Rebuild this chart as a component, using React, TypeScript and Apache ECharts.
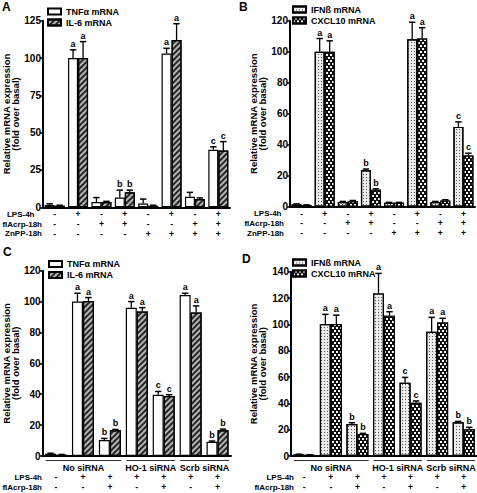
import React, { useEffect, useRef } from 'react';
import * as echarts from 'echarts';

const FONT = '"Liberation Sans", Arial, Helvetica, sans-serif';

// ---------- Panel A ----------
const catsA = ['A1', 'A2', 'A3', 'A4', 'A5', 'A6', 'A7', 'A8'];
const lpsA = ['-', '+', '-', '+', '-', '+', '-', '+'];
const flA = ['-', '-', '+', '+', '-', '-', '+', '+'];
const znA = ['-', '-', '-', '-', '+', '+', '+', '+'];
const tnfA = [1.5, 100, 3.5, 6.5, 2.5, 103, 7, 38.5];
const tnfErrA = [0.8, 5.5, 3, 5, 3, 3.5, 3, 2];
const tnfLetA = ['', 'a', '', 'b', '', 'a', '', 'c'];
const il6A = [1, 100, 3.5, 10, 1, 112, 5.5, 38];
const il6ErrA = [0.4, 11, 0.5, 1.5, 0.4, 11, 0.8, 6];
const il6LetA = ['', 'a', '', 'b', '', 'a', '', 'c'];

// ---------- Panel B ----------
const catsB = ['B1', 'B2', 'B3', 'B4', 'B5', 'B6', 'B7', 'B8'];
const ifnB = [1.5, 100, 3, 23.5, 2.5, 108, 3, 51.5];
const ifnErrB = [0.3, 8.5, 0.4, 0.8, 0.3, 11, 0.4, 3.2];
const ifnLetB = ['', 'a', '', 'b', '', 'a', '', 'c'];
const cxB = [1, 100, 3.5, 11, 2.5, 108.5, 4, 33];
const cxErrB = [0.2, 7, 0.5, 0.5, 0.3, 7, 0.5, 1.5];
const cxLetB = ['', 'a', '', 'b', '', 'a', '', 'c'];

// ---------- Panel C ----------
const catsC = ['C1', 'C2', 'C3', 'C4', 'C5', 'C6', 'C7'];
const lpsC = ['-', '+', '+', '+', '+', '+', '+'];
const flC = ['-', '-', '+', '-', '+', '-', '+'];
const tnfC = [1.5, 100, 10.3, 96, 39.7, 104.3, 9.2];
const tnfErrC = [0.3, 5.4, 1.1, 4, 2.1, 1.1, 0.5];
const tnfLetC = ['', 'a', 'b', 'a', 'c', 'a', 'b'];
const il6C = [0.8, 100.3, 16.7, 93.6, 38.8, 92.9, 16.7];
const il6ErrC = [0.2, 2.3, 0.5, 2.5, 0.9, 4.3, 0.7];
const il6LetC = ['', 'a', 'b', 'a', 'c', 'a', 'b'];

// ---------- Panel D ----------
const catsD = ['D1', 'D2', 'D3', 'D4', 'D5', 'D6', 'D7'];
const ifnD = [1.2, 100.3, 24.3, 123.5, 55.7, 94.4, 25.6];
const ifnErrD = [0.2, 7.3, 1, 15.2, 4, 10.9, 0.7];
const ifnLetD = ['', 'a', 'b', 'a', 'c', 'a', 'b'];
const cxD = [0.8, 100.3, 16.7, 106.6, 40.5, 101.5, 20.3];
const cxErrD = [0.2, 6.7, 0.5, 3, 1.3, 3.1, 1.5];
const cxLetD = ['', 'a', 'b', 'a', 'c', 'a', 'b'];

const siGroups = ['No siRNA', 'HO-1 siRNA', 'Scrb siRNA'];
const siGroupRanges = [[0, 2], [3, 4], [5, 6]];

const rowNamesAB = ['LPS-4h', 'flAcrp-18h', 'ZnPP-18h'];
const rowNamesCD = ['LPS-4h', 'flAcrp-18h'];

const Y_NAME = 'Relative mRNA expression\n(fold over basal)';

// ---------- styles ----------
const styleWhite = { color: '#ffffff' };
const styleHatch = {
  color: '#b4b4b4',
  decal: { symbol: 'rect', symbolSize: 1, dashArrayX: [1, 0], dashArrayY: [1.3, 1.7], rotation: -Math.PI / 4, color: '#262626' },
};
const styleDots = {
  color: '#ececec',
  decal: { symbol: 'rect', symbolSize: 1, dashArrayX: [1, 2], dashArrayY: [1, 2], color: '#555' },
};
const styleChecker = {
  color: '#111111',
  decal: { symbol: 'rect', symbolSize: 1, dashArrayX: [[2, 2], [0, 2, 2, 0]], dashArrayY: [2, 1], color: '#ffffff' },
};

const ROW_H_AB = 9.7;
const ROW_OFF_AB = 7; // first row centre below the zero line
const ROW_H_CD = 10;
const ROW_OFF_CD = 21;

function barSeries(name: string, idx: number, vals: number[], st: any, bw: number) {
  return {
    type: 'bar',
    name,
    xAxisIndex: idx,
    yAxisIndex: idx,
    data: vals,
    barWidth: bw,
    barGap: '0%',
    z: 2,
    itemStyle: { ...st, borderColor: '#000', borderWidth: 1.2 },
  };
}

function errSeries(idx: number, vals: number[], errs: number[], lets: string[], side: number, bw: number) {
  return {
    type: 'custom',
    xAxisIndex: idx,
    yAxisIndex: idx,
    z: 4,
    clip: false,
    silent: true,
    data: vals.map((v, i) => [i, v, errs[i]]),
    encode: { x: 0, y: 1 },
    renderItem: (params: any, api: any) => {
      const i = api.value(0);
      const v = api.value(1);
      const e = api.value(2);
      const base = api.coord([i, v]);
      const top = api.coord([i, v + e]);
      const x = base[0] + (side * bw) / 2;
      const children: any[] = [];
      if (e > 0) {
        children.push({
          type: 'line',
          shape: { x1: x, y1: base[1], x2: x, y2: top[1] },
          style: { stroke: '#000', lineWidth: 1.3 },
        });
        children.push({
          type: 'line',
          shape: { x1: x - 3.2, y1: top[1], x2: x + 3.2, y2: top[1] },
          style: { stroke: '#000', lineWidth: 1.5 },
        });
      }
      const letter = lets[params.dataIndex];
      if (letter) {
        children.push({
          type: 'text',
          x,
          y: top[1] - 1.5,
          style: {
            text: letter,
            textAlign: 'center',
            textVerticalAlign: 'bottom',
            font: `bold 9px ${FONT}`,
            fill: '#000',
          },
        });
      }
      return { type: 'group', children };
    },
  };
}

function yAxisDef(gridIndex: number, max: number, interval: number, nameGap: number) {
  return {
    type: 'value',
    gridIndex,
    min: 0,
    max,
    interval,
    name: Y_NAME,
    nameLocation: 'middle',
    nameGap,
    nameTextStyle: { fontFamily: FONT, fontWeight: 'bold', fontSize: 9.5, lineHeight: 9, color: '#000' },
    axisLine: { show: true, lineStyle: { color: '#000', width: 2 } },
    axisTick: { show: true, length: 3, lineStyle: { color: '#000', width: 1.5 } },
    axisLabel: { fontFamily: FONT, fontWeight: 'bold', fontSize: 10, lineHeight: 7, color: '#000', margin: 2 },
    splitLine: { show: false },
  };
}

function xAxisDef(gridIndex: number, cats: string[], rows: string[][], margin: number, lineHeight: number) {
  return {
    type: 'category',
    gridIndex,
    data: cats,
    axisLine: { show: true, onZero: false, lineStyle: { color: '#000', width: 2 } },
    axisTick: { show: false },
    axisLabel: {
      interval: 0,
      margin,
      fontFamily: FONT,
      fontWeight: 'bold',
      fontSize: 8.5,
      lineHeight,
      color: '#000',
      formatter: (_v: string, i: number) => rows.map((r) => r[i]).join('\n'),
    },
  };
}

function legendDef(names: string[], left: number, top: number) {
  return {
    orient: 'vertical',
    left,
    top,
    padding: 0,
    itemGap: 2,
    itemWidth: 13,
    itemHeight: 6,
    icon: 'rect',
    selectedMode: false,
    data: names,
    textStyle: { fontFamily: FONT, fontWeight: 'bold', fontSize: 9, color: '#000' },
  };
}

function buildOption() {
  const bwAB = 10;
  const bwCD = 11;
  return {
    animation: false,
    backgroundColor: '#fff',
    textStyle: { fontFamily: FONT },
    grid: [
      { left: 43, right: 247, top: 20.7, bottom: 285.7 },
      { left: 290, right: 2, top: 20.7, bottom: 286.3 },
      { left: 41, right: 246, top: 270.7, bottom: 37 },
      { left: 291, right: 0, top: 271.7, bottom: 37 },
    ],
    xAxis: [
      xAxisDef(0, catsA, [lpsA, flA, znA], ROW_OFF_AB - ROW_H_AB / 2, ROW_H_AB),
      xAxisDef(1, catsB, [lpsA, flA, znA], ROW_OFF_AB - ROW_H_AB / 2, ROW_H_AB),
      xAxisDef(2, catsC, [lpsC, flC], ROW_OFF_CD - ROW_H_CD / 2, ROW_H_CD),
      xAxisDef(3, catsD, [lpsC, flC], ROW_OFF_CD - ROW_H_CD / 2, ROW_H_CD),
    ],
    yAxis: [
      yAxisDef(0, 125, 25, 23),
      yAxisDef(1, 120, 20, 21.5),
      yAxisDef(2, 120, 20, 21),
      yAxisDef(3, 140, 20, 24.5),
    ],
    legend: [
      legendDef(['TNFα mRNA', 'IL-6 mRNA'], 47, 7),
      legendDef(['IFNß mRNA', 'CXCL10 mRNA'], 292, 5),
      legendDef(['TNFα mRNA', 'IL-6 mRNA'], 48, 259.5),
      legendDef(['IFNß mRNA', 'CXCL10 mRNA'], 292, 258),
    ],
    series: [
      barSeries('TNFα mRNA', 0, tnfA, styleWhite, bwAB),
      barSeries('IL-6 mRNA', 0, il6A, styleHatch, bwAB),
      errSeries(0, tnfA, tnfErrA, tnfLetA, -1, bwAB),
      errSeries(0, il6A, il6ErrA, il6LetA, 1, bwAB),

      barSeries('IFNß mRNA', 1, ifnB, styleDots, bwAB),
      barSeries('CXCL10 mRNA', 1, cxB, styleChecker, bwAB),
      errSeries(1, ifnB, ifnErrB, ifnLetB, -1, bwAB),
      errSeries(1, cxB, cxErrB, cxLetB, 1, bwAB),

      barSeries('TNFα mRNA', 2, tnfC, styleWhite, bwCD),
      barSeries('IL-6 mRNA', 2, il6C, styleHatch, bwCD),
      errSeries(2, tnfC, tnfErrC, tnfLetC, -1, bwCD),
      errSeries(2, il6C, il6ErrC, il6LetC, 1, bwCD),

      barSeries('IFNß mRNA', 3, ifnD, styleDots, bwCD),
      barSeries('CXCL10 mRNA', 3, cxD, styleChecker, bwCD),
      errSeries(3, ifnD, ifnErrD, ifnLetD, -1, bwCD),
      errSeries(3, cxD, cxErrD, cxLetD, 1, bwCD),
    ],
  };
}

function textEl(text: string, x: number, y: number, size: number, align: string, lh?: number) {
  return {
    type: 'text',
    x,
    y,
    silent: true,
    style: {
      text,
      font: `bold ${size}px ${FONT}`,
      fill: '#000',
      textAlign: align,
      textVerticalAlign: 'middle',
      lineHeight: lh || size + 2,
    },
  };
}

function buildGraphic(chart: any) {
  const els: any[] = [];
  // panel letters
  els.push(textEl('A', 2, 7, 12, 'left'));
  els.push(textEl('B', 239, 7, 12, 'left'));
  els.push(textEl('C', 3, 252, 12, 'left'));
  els.push(textEl('D', 242, 259, 12, 'left'));
  // row names, aligned with the axis-label rows
  const zA = chart.convertToPixel({ yAxisIndex: 0 }, 0);
  const zB = chart.convertToPixel({ yAxisIndex: 1 }, 0);
  const zC = chart.convertToPixel({ yAxisIndex: 2 }, 0);
  const zD = chart.convertToPixel({ yAxisIndex: 3 }, 0);
  rowNamesAB.forEach((t, k) => {
    // the first row sits just left of the "0" tick label
    els.push(textEl(t, k === 0 ? 34.5 : 42, zA + ROW_OFF_AB + k * ROW_H_AB, 8, 'right', 7));
    els.push(textEl(t, k === 0 ? 281.5 : 284, zB + ROW_OFF_AB + k * ROW_H_AB, 8, 'right', 7));
  });
  rowNamesCD.forEach((t, k) => {
    els.push(textEl(t, 42, zC + ROW_OFF_CD + k * ROW_H_CD, 8, 'right', 8));
    els.push(textEl(t, 294, zD + ROW_OFF_CD + k * ROW_H_CD, 8, 'right', 8));
  });
  // siRNA groups
  [2, 3].forEach((axisIdx) => {
    const c0 = chart.convertToPixel({ xAxisIndex: axisIdx }, 0);
    const c1 = chart.convertToPixel({ xAxisIndex: axisIdx }, 1);
    const band = c1 - c0;
    const zeroY = chart.convertToPixel({ yAxisIndex: axisIdx }, 0);
    siGroupRanges.forEach((r, g) => {
      const xs = chart.convertToPixel({ xAxisIndex: axisIdx }, r[0]) - band / 2 + 3;
      const xe = chart.convertToPixel({ xAxisIndex: axisIdx }, r[1]) + band / 2 - 2;
      els.push({
        type: 'line',
        silent: true,
        shape: { x1: xs, y1: zeroY + 4.5, x2: xe, y2: zeroY + 4.5 },
        style: { stroke: '#333', lineWidth: 1 },
      });
      els.push(textEl(siGroups[g], (xs + xe) / 2, zeroY + 11.5, 9, 'center', 9));
    });
  });
  return els;
}

export default function App() {
  const ref = useRef<HTMLDivElement>(null);
  useEffect(() => {
    const chart = echarts.init(ref.current as HTMLDivElement, null, { renderer: 'svg' });
    chart.setOption(buildOption() as any);
    chart.setOption({ graphic: buildGraphic(chart) } as any);
    return () => chart.dispose();
  }, []);
  return (
    <div
      ref={ref}
      style={{ position: 'fixed', left: 0, top: 0, width: 477, height: 493, background: '#fff' }}
    />
  );
}
